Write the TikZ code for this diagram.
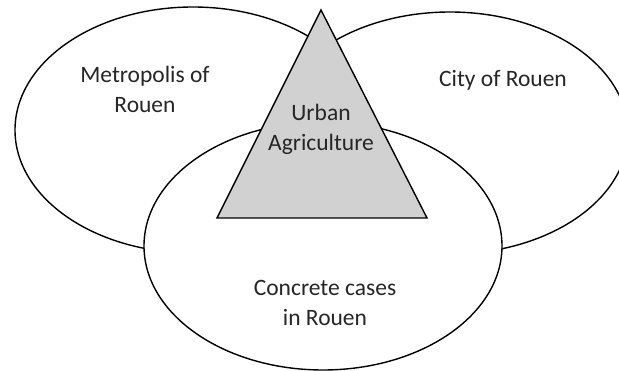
\documentclass[tikz,border=0pt]{standalone}
\usepackage{fontspec}
\setmainfont{Carlito}
\usetikzlibrary{shapes.geometric}
\begin{document}
\begin{tikzpicture}[x=1pt,y=-1pt,
  region/.style={ellipse,draw=black,fill=white,line width=1.4pt,inner sep=0pt},
  lbl/.style={align=center,font=\fontsize{23.5}{30}\selectfont,text=black!85}]
\useasboundingbox (0,0) rectangle (619,371);
\clip (0,0) rectangle (619,371);
\node[region,minimum width=356,minimum height=246] (metro) at (193,130) {};
\node[region,minimum width=356,minimum height=242] (city) at (450,133) {};
\node[region,minimum width=358,minimum height=248] (cases) at (323,246) {};
\coordinate (tl) at (217,218);
\coordinate (tr) at (427,218);
\coordinate (ta) at (321,10);
\draw[fill=black!18,line width=1.4pt,line join=miter] (tl) -- (tr) -- (ta) -- cycle;
\node[lbl] (tmetro) at (145,89) {Metropolis of\\Rouen};
\node[lbl] (tcity) at (503,80) {City of Rouen};
\node[lbl] (tua) at (321,129) {Urban\\Agriculture};
\node[lbl] (tcases) at (325,303) {Concrete cases\\in Rouen};
\end{tikzpicture}
\end{document}
